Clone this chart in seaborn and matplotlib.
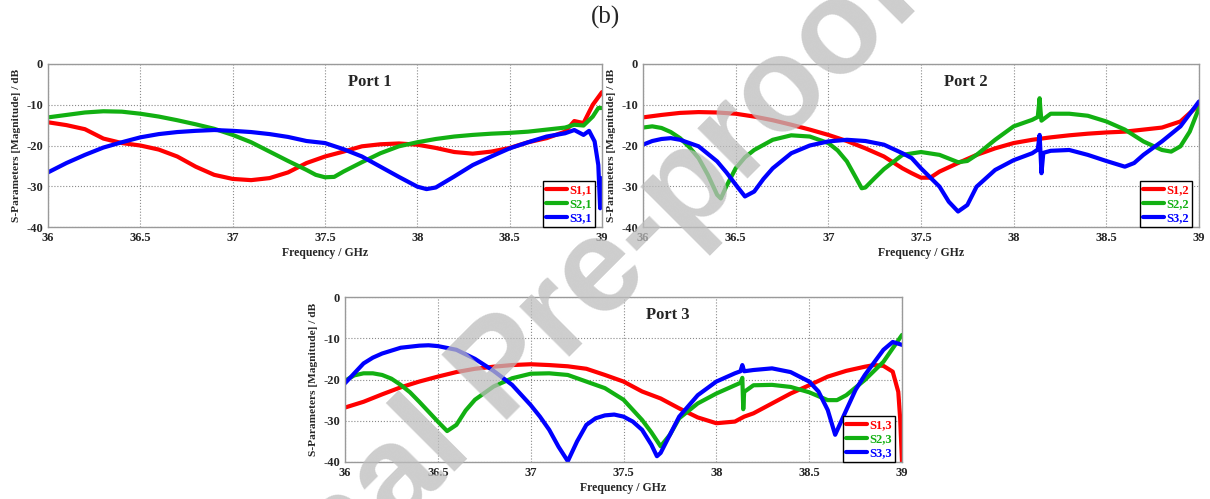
import matplotlib
matplotlib.use("Agg")
import matplotlib.pyplot as plt
import seaborn as sns
import pandas as pd

# ---------------- data ----------------
# Port 1
p1_s11_f = [36, 36.1, 36.2, 36.3, 36.4, 36.5, 36.6, 36.7, 36.8, 36.9, 37.0, 37.1, 37.2, 37.3, 37.4, 37.5,
            37.6, 37.7, 37.8, 37.9, 38.0, 38.1, 38.2, 38.3, 38.4, 38.5, 38.6, 38.7, 38.8, 38.85, 38.9, 38.95, 39.0]
p1_s11_v = [-14.3, -15.0, -16.0, -18.3, -19.4, -20.0, -21.0, -22.7, -25.2, -27.2, -28.2, -28.5, -28.0, -26.6,
            -24.3, -22.7, -21.5, -20.2, -19.7, -19.5, -19.8, -20.6, -21.6, -22.0, -21.5, -20.6, -19.2, -18.2,
            -16.6, -14.0, -14.5, -10.0, -6.9]
p1_s21_f = [36, 36.1, 36.2, 36.3, 36.4, 36.5, 36.6, 36.7, 36.8, 36.9, 37.0, 37.1, 37.2, 37.3, 37.4, 37.45,
            37.5, 37.55, 37.6, 37.7, 37.8, 37.9, 38.0, 38.1, 38.2, 38.3, 38.4, 38.5, 38.6, 38.7, 38.8, 38.85,
            38.9, 38.95, 38.98, 39.0]
p1_s21_v = [-13.1, -12.5, -11.9, -11.6, -11.7, -12.2, -12.9, -13.8, -14.8, -15.9, -17.4, -19.2, -21.5, -23.8,
            -26.0, -27.2, -27.8, -27.7, -26.4, -24.1, -21.9, -20.2, -19.2, -18.4, -17.8, -17.4, -17.1, -16.9,
            -16.6, -16.1, -15.6, -14.9, -15.1, -12.9, -10.8, -10.8]
p1_s31_f = [36, 36.1, 36.2, 36.3, 36.4, 36.5, 36.6, 36.7, 36.8, 36.9, 37.0, 37.1, 37.2, 37.3, 37.4, 37.5,
            37.6, 37.7, 37.8, 37.9, 38.0, 38.05, 38.1, 38.2, 38.3, 38.4, 38.5, 38.6, 38.7, 38.8, 38.85, 38.9,
            38.93, 38.96, 38.98, 38.99, 39.0]
p1_s31_v = [-26.6, -24.3, -22.3, -20.5, -19.2, -18.0, -17.2, -16.7, -16.4, -16.2, -16.4, -16.7, -17.2, -17.9,
            -18.9, -19.4, -20.9, -22.7, -25.2, -27.7, -30.1, -30.7, -30.3, -27.6, -24.8, -22.7, -20.7, -19.2,
            -17.8, -17.0, -16.2, -17.4, -16.4, -19.0, -24.8, -35.4, -28.0]

# Port 2
p2_s12_f = [36, 36.1, 36.2, 36.3, 36.4, 36.5, 36.6, 36.7, 36.8, 36.9, 37.0, 37.1, 37.2, 37.3, 37.4, 37.45,
            37.5, 37.55, 37.6, 37.7, 37.8, 37.9, 38.0, 38.1, 38.2, 38.3, 38.4, 38.5, 38.6, 38.7, 38.8, 38.9, 39.0]
p2_s12_v = [-13.1, -12.5, -12.0, -11.8, -11.9, -12.2, -12.9, -13.8, -14.9, -16.1, -17.4, -18.9, -20.7, -22.7,
            -25.6, -26.8, -27.9, -27.9, -26.4, -24.3, -22.3, -20.7, -19.4, -18.6, -18.0, -17.5, -17.1, -16.8,
            -16.6, -16.1, -15.6, -14.1, -10.0]
p2_s22_f = [36, 36.05, 36.1, 36.15, 36.2, 36.25, 36.3, 36.35, 36.4, 36.42, 36.45, 36.5, 36.55, 36.6, 36.7,
            36.8, 36.9, 37.0, 37.05, 37.1, 37.15, 37.18, 37.2, 37.25, 37.3, 37.4, 37.5, 37.6, 37.7, 37.75, 37.8,
            37.9, 38.0, 38.1, 38.13, 38.14, 38.145, 38.15, 38.2, 38.3, 38.4, 38.5, 38.6, 38.7, 38.8, 38.85,
            38.9, 38.95, 39.0]
p2_s22_v = [-15.6, -15.3, -15.7, -16.7, -18.2, -20.4, -23.1, -27.2, -32.1, -33.0, -30.0, -25.6, -22.9, -21.1,
            -18.6, -17.5, -17.8, -19.4, -21.2, -23.9, -28.0, -30.5, -30.3, -28.0, -25.8, -22.3, -21.6, -22.3,
            -24.1, -23.8, -22.3, -18.6, -15.3, -13.7, -13.0, -8.4, -11.5, -13.9, -12.2, -12.2, -12.7, -14.1,
            -16.1, -19.0, -21.1, -21.5, -20.2, -16.6, -10.8]
p2_s32_f = [36, 36.05, 36.1, 36.15, 36.2, 36.3, 36.4, 36.45, 36.5, 36.55, 36.6, 36.65, 36.7, 36.8, 36.9, 37.0,
            37.1, 37.2, 37.3, 37.4, 37.45, 37.5, 37.6, 37.65, 37.7, 37.75, 37.8, 37.9, 38.0, 38.1, 38.13, 38.14,
            38.145, 38.15, 38.16, 38.2, 38.3, 38.4, 38.5, 38.6, 38.65, 38.7, 38.8, 38.9, 39.0]
p2_s32_v = [-19.8, -18.9, -18.4, -18.2, -18.6, -20.2, -23.9, -26.6, -29.6, -32.5, -31.3, -28.2, -25.6, -21.9,
            -20.0, -19.0, -18.6, -18.9, -19.8, -21.9, -23.1, -25.6, -30.1, -33.8, -36.2, -34.6, -30.1, -26.0,
            -23.6, -21.9, -21.0, -17.4, -22.0, -26.8, -21.8, -21.3, -21.1, -22.3, -23.8, -25.2, -24.3, -22.3,
            -19.0, -15.3, -9.2]

# Port 3
p3_s13_f = [36, 36.1, 36.2, 36.3, 36.4, 36.5, 36.6, 36.7, 36.8, 36.9, 37.0, 37.1, 37.2, 37.3, 37.4, 37.5,
            37.6, 37.7, 37.8, 37.9, 38.0, 38.1, 38.15, 38.2, 38.3, 38.4, 38.5, 38.6, 38.7, 38.8, 38.85, 38.9,
            38.95, 38.98, 38.99, 39.0]
p3_s13_v = [-26.8, -25.4, -23.6, -21.9, -20.5, -19.3, -18.2, -17.4, -16.9, -16.5, -16.3, -16.5, -16.8, -17.4,
            -18.9, -20.5, -22.9, -24.6, -27.0, -29.2, -30.6, -30.2, -29.0, -28.2, -25.8, -23.4, -21.4, -19.3,
            -17.9, -16.9, -16.5, -16.7, -18.1, -23.0, -29.4, -40.0]
p3_s23_f = [36, 36.05, 36.1, 36.15, 36.2, 36.25, 36.3, 36.35, 36.4, 36.45, 36.5, 36.55, 36.6, 36.65, 36.7, 36.8,
            36.9, 37.0, 37.1, 37.2, 37.3, 37.4, 37.5, 37.6, 37.65, 37.7, 37.75, 37.8, 37.9, 38.0, 38.1, 38.13,
            38.14, 38.145, 38.15, 38.2, 38.3, 38.4, 38.5, 38.6, 38.65, 38.7, 38.8, 38.9, 39.0]
p3_s23_v = [-20.3, -19.0, -18.5, -18.5, -18.9, -19.8, -21.3, -23.1, -25.4, -27.8, -30.2, -32.5, -31.0, -27.5,
            -24.9, -21.7, -19.7, -18.6, -18.5, -18.9, -20.5, -22.1, -24.9, -29.8, -32.8, -36.2, -33.4, -29.4,
            -25.8, -23.4, -21.4, -20.8, -19.6, -27.2, -23.0, -21.4, -21.3, -21.8, -23.1, -25.0, -25.0, -23.8,
            -20.1, -15.7, -9.2]
p3_s33_f = [36, 36.05, 36.1, 36.15, 36.2, 36.3, 36.4, 36.45, 36.5, 36.6, 36.7, 36.8, 36.9, 37.0, 37.05, 37.1,
            37.15, 37.2, 37.25, 37.3, 37.35, 37.4, 37.45, 37.5, 37.55, 37.6, 37.65, 37.68, 37.7, 37.75, 37.8,
            37.9, 38.0, 38.1, 38.13, 38.14, 38.15, 38.2, 38.3, 38.4, 38.5, 38.55, 38.6, 38.64, 38.7, 38.75,
            38.8, 38.9, 38.95, 39.0]
p3_s33_v = [-20.9, -18.5, -16.1, -14.7, -13.7, -12.3, -11.8, -11.7, -11.9, -12.8, -15.0, -17.9, -21.3, -26.2,
            -29.0, -32.2, -36.3, -39.8, -35.0, -31.0, -29.4, -28.7, -28.5, -29.0, -30.2, -32.2, -35.8, -38.6,
            -37.8, -33.4, -29.0, -23.8, -20.5, -18.5, -18.0, -16.5, -18.0, -17.7, -17.3, -18.2, -20.5, -22.9,
            -27.4, -33.4, -27.4, -22.5, -18.9, -12.8, -10.9, -11.6]

port_titles = ["Port 1", "Port 2", "Port 3"]
labels = [["S1,1", "S2,1", "S3,1"], ["S1,2", "S2,2", "S3,2"], ["S1,3", "S2,3", "S3,3"]]
series = [
    [(p1_s11_f, p1_s11_v), (p1_s21_f, p1_s21_v), (p1_s31_f, p1_s31_v)],
    [(p2_s12_f, p2_s12_v), (p2_s22_f, p2_s22_v), (p2_s32_f, p2_s32_v)],
    [(p3_s13_f, p3_s13_v), (p3_s23_f, p3_s23_v), (p3_s33_f, p3_s33_v)],
]
x_ticks = [36, 36.5, 37, 37.5, 38, 38.5, 39]
x_ticklabels = ["36", "36.5", "37", "37.5", "38", "38.5", "39"]
y_ticks = [0, -10, -20, -30, -40]
y_ticklabels = ["0", "-10", "-20", "-30", "-40"]
colors = ["#ff0000", "#12b012", "#0000ff"]

# ---------------- style ----------------
sns.set_theme(style="white")
plt.rcParams["font.family"] = ["Liberation Serif", "DejaVu Serif"]
plt.rcParams["font.weight"] = "bold"

fig = plt.figure(figsize=(12.10, 4.99), dpi=100)
W, H = 1210, 499
boxes = [(48, 64, 602, 227), (643, 64, 1199, 227), (345, 297, 902, 462)]

for i, (x0, y0, x1, y1) in enumerate(boxes):
    ax = fig.add_axes([x0 / W, 1 - y1 / H, (x1 - x0) / W, (y1 - y0) / H])
    frames = []
    for lab, (f, v) in zip(labels[i], series[i]):
        frames.append(pd.DataFrame({"Frequency": f, "dB": v, "Param": lab}))
    df = pd.concat(frames, ignore_index=True)
    sns.lineplot(data=df, x="Frequency", y="dB", hue="Param",
                 palette=dict(zip(labels[i], colors)), hue_order=labels[i],
                 estimator=None, sort=False, lw=3.0, ax=ax, legend=False)
    for ln in ax.lines:
        ln.set_solid_joinstyle("round")
        ln.set_solid_capstyle("round")
    ax.set_xlim(36, 39)
    ax.set_ylim(-40, 0)
    ax.set_xticks(x_ticks)
    ax.set_xticklabels(x_ticklabels)
    ax.set_yticks(y_ticks)
    ax.set_yticklabels(y_ticklabels)
    ax.tick_params(length=0, pad=3.5, labelsize=9)
    for t in ax.get_xticklabels() + ax.get_yticklabels():
        t.set_fontweight("bold")
    ax.grid(True, linestyle=":", color="#8a8a8a", lw=0.8)
    for s in ax.spines.values():
        s.set_color("#9a9a9a")
        s.set_linewidth(1.0)
    ax.set_xlabel("Frequency / GHz", fontsize=8.5, fontweight="bold", labelpad=2)
    ax.set_ylabel("S-Parameters [Magnitude] / dB", fontsize=8.2, fontweight="bold", labelpad=4)
    ax.text(0.58, 0.89, port_titles[i], transform=ax.transAxes, ha="center", va="center",
            fontsize=12, fontweight="bold")
    leg = ax.legend(ax.lines[:3], labels[i], loc="lower right", bbox_to_anchor=(0.988, 0.0),
                    borderaxespad=0, frameon=True, fancybox=False, framealpha=1,
                    edgecolor="black", handlelength=1.7, handletextpad=0.2,
                    borderpad=0.25, labelspacing=0.15, prop={"weight": "bold", "size": 9})
    leg.get_frame().set_linewidth(1.0)
    for txt, c in zip(leg.get_texts(), colors):
        txt.set_color(c)

fig.text(605 / W, 1 - 17 / H, "(b)", ha="center", va="center", fontsize=18,
         fontweight="normal", family=["Liberation Serif", "DejaVu Serif"])

# watermark
fig.text(505 / W, 1 - 372 / H, "Journal Pre-proof", ha="center", va="center", rotation=45,
         rotation_mode="anchor", fontsize=96, color="#bdbdbd", alpha=0.75, fontweight="bold",
         family=["Liberation Sans", "DejaVu Sans"], zorder=100)

fig.savefig("out.png", dpi=100)
